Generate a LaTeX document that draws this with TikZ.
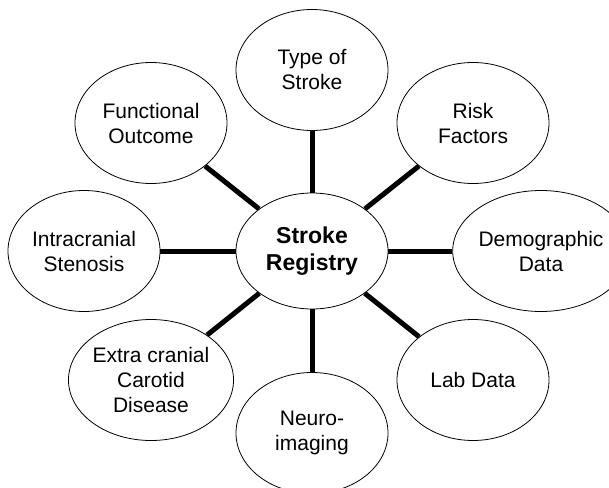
\documentclass[tikz,border=0pt]{standalone}
\usepackage{fontspec}
\setmainfont{Liberation Sans}
\usetikzlibrary{shapes.geometric}
\begin{document}
\begin{tikzpicture}[x=1pt,y=-1pt,
  bubble/.style={ellipse,draw=black,line width=0.8pt,fill=white,minimum width=152pt,minimum height=121pt,inner sep=0pt,align=center,font=\fontsize{21}{25}\selectfont},
  hub/.style={bubble,minimum height=116pt,font=\fontsize{23}{27}\selectfont\bfseries},
  spoke/.style={line width=5pt}]
\useasboundingbox (0,0) rectangle (609,487);
\fill[white] (0,0) rectangle (609,487);
\clip (0,0) rectangle (609,487);
\node[hub] (c) at (312,251) {Stroke\\Registry};
\node[bubble] (type) at (312,70) {Type of\\Stroke};
\node[bubble] (risk) at (473,123) {Risk\\Factors};
\node[bubble] (func) at (151,123) {Functional\\Outcome};
\node[bubble] (intra) at (84,251) {Intracranial\\Stenosis};
\node[bubble] (demo) at (541,251) {Demographic\\Data};
\node[bubble] (lab) at (473,380) {Lab Data};
\node[bubble] (extra) at (151,380) {Extra cranial\\Carotid\\Disease};
\node[bubble] (neuro) at (312,433) {Neuro-\\imaging};
\foreach \n in {type,risk,func,intra,demo,lab,extra,neuro}
  \draw[spoke] (c) -- (\n);
\end{tikzpicture}
\end{document}
